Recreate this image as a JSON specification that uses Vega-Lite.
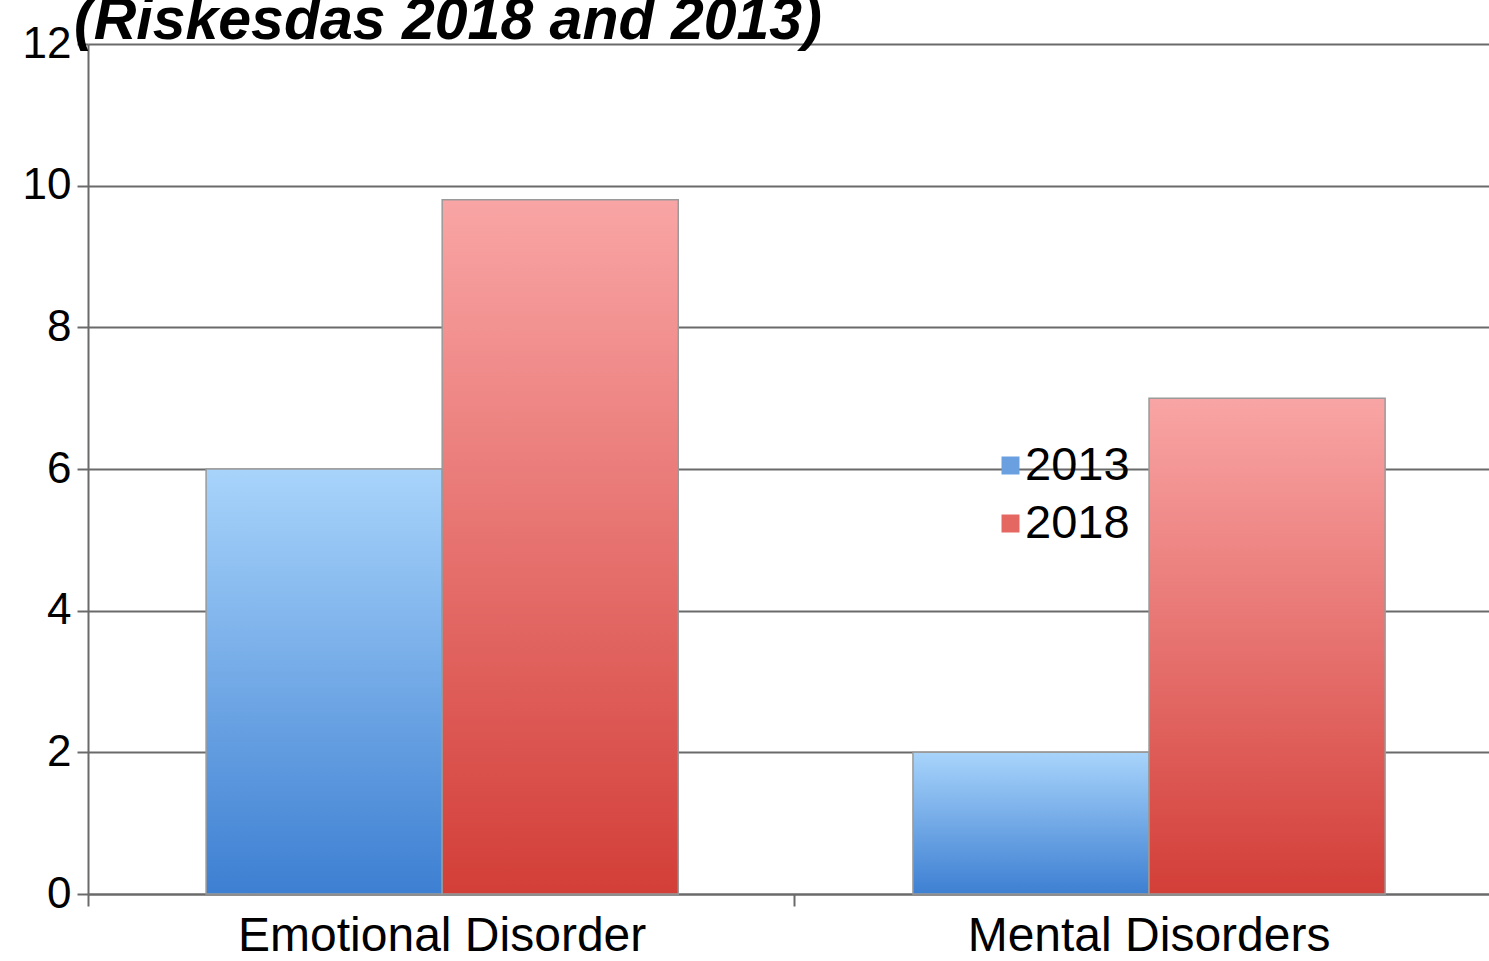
{
  "$schema": "https://vega.github.io/schema/vega-lite/v6.json",
  "width": 1401,
  "height": 850,
  "autosize": {"type": "none"},
  "padding": {"left": 88, "top": 44, "right": 0, "bottom": 67},
  "background": "white",
  "title": {
    "text": "(Riskesdas 2018 and 2013)",
    "anchor": "start",
    "frame": "group",
    "font": "Liberation Sans",
    "fontSize": 59,
    "fontWeight": "bold",
    "fontStyle": "italic",
    "color": "black",
    "dx": -14,
    "dy": 33
  },
  "data": {
    "values": [
      {"category": "Emotional Disorder", "year": "2013", "value": 6.0},
      {"category": "Emotional Disorder", "year": "2018", "value": 9.8},
      {"category": "Mental Disorders", "year": "2013", "value": 2.0},
      {"category": "Mental Disorders", "year": "2018", "value": 7.0}
    ]
  },
  "config": {
    "view": {"stroke": null},
    "font": "Liberation Sans"
  },
  "encoding": {
    "x": {
      "field": "category",
      "type": "nominal",
      "scale": {"paddingInner": 0.332, "paddingOuter": 0.157, "align": 0.532},
      "axis": {
        "title": null,
        "labelAngle": 0,
        "labelFontSize": 48,
        "labelLimit": 0,
        "labelColor": "black",
        "labelPadding": 6,
        "bandPosition": -0.25,
        "tickSize": 12,
        "tickColor": "#6a6a6a",
        "tickWidth": 2,
        "domainColor": "#6a6a6a",
        "domainWidth": 2,
        "grid": false
      }
    },
    "xOffset": {"field": "year", "type": "nominal"},
    "y": {
      "field": "value",
      "type": "quantitative",
      "scale": {"domain": [0, 12], "nice": false},
      "axis": {
        "title": null,
        "values": [0, 2, 4, 6, 8, 10, 12],
        "labelFontSize": 44,
        "labelColor": "black",
        "labelPadding": 6,
        "tickSize": 11,
        "tickColor": "#6a6a6a",
        "tickWidth": 2,
        "domainColor": "#6a6a6a",
        "domainWidth": 2,
        "grid": true,
        "gridColor": "#6a6a6a",
        "gridWidth": 2
      }
    }
  },
  "layer": [
    {
      "transform": [{"filter": "datum.year === '2013'"}],
      "mark": {
        "type": "bar",
        "stroke": "#9a9a9a",
        "strokeWidth": 1.5,
        "fill": {
          "gradient": "linear",
          "x1": 0, "y1": 0, "x2": 0, "y2": 1,
          "stops": [
            {"offset": 0, "color": "#a8d4fb"},
            {"offset": 1, "color": "#3d7fd2"}
          ]
        }
      }
    },
    {
      "transform": [{"filter": "datum.year === '2018'"}],
      "mark": {
        "type": "bar",
        "stroke": "#9a9a9a",
        "strokeWidth": 1.5,
        "fill": {
          "gradient": "linear",
          "x1": 0, "y1": 0, "x2": 0, "y2": 1,
          "stops": [
            {"offset": 0, "color": "#f9a5a5"},
            {"offset": 1, "color": "#d33e38"}
          ]
        }
      }
    },
    {
      "mark": {"type": "square", "size": 0, "opacity": 1},
      "encoding": {
        "color": {
          "field": "year",
          "type": "nominal",
          "scale": {"domain": ["2013", "2018"], "range": ["#6a9fe0", "#e46762"]},
          "legend": {
            "title": null,
            "orient": "none",
            "legendX": 899,
            "legendY": 398,
            "symbolType": "square",
            "symbolSize": 324,
            "symbolStrokeWidth": 0,
            "symbolOpacity": 1,
            "labelFontSize": 47,
            "labelColor": "black",
            "labelOffset": -9,
            "rowPadding": 10
          }
        }
      }
    }
  ]
}
